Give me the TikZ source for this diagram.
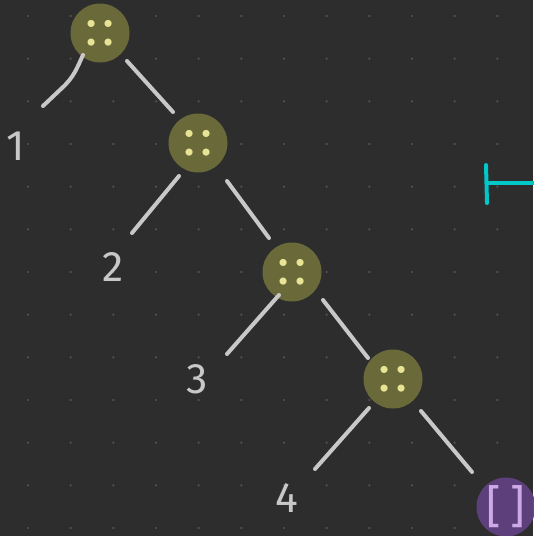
\documentclass[tikz,border=0pt]{standalone}
\usepackage{fontspec}
\setmainfont{Fira Sans}
\definecolor{bg}{RGB}{45,45,45}
\definecolor{griddot}{RGB}{82,82,82}
\definecolor{olive}{RGB}{110,110,58}
\definecolor{dotyel}{RGB}{232,228,150}
\definecolor{edgegray}{RGB}{200,200,200}
\definecolor{nilpurple}{RGB}{96,66,128}
\definecolor{nilink}{RGB}{205,170,230}
\definecolor{tcyan}{RGB}{0,200,200}
\tikzset{
  cons/.style={circle, fill=olive, fill opacity=0.93, text opacity=1, minimum size=59*0.75pt, inner sep=0pt,
    text=dotyel, font=\fontsize{38}{38}\selectfont},
  nilnode/.style={circle, fill=nilpurple, fill opacity=0.95, text opacity=1, minimum size=59*0.75pt, inner sep=0pt,
    text=nilink, font=\fontsize{34}{34}\selectfont},
  lbl/.style={text=edgegray, font=\fontsize{32}{32}\selectfont, inner sep=0pt},
  edge/.style={draw=edgegray, line width=3pt, line cap=round, line join=round},
  tline/.style={draw=tcyan, line width=3pt, line cap=round}
}
\begin{document}
\begin{tikzpicture}[x=0.75pt, y=-0.75pt]
\fill[bg] (0,0) rectangle (533,536);
\useasboundingbox (0,0) rectangle (533,536);
% grid dots
\foreach \i in {0,...,12}{
  \foreach \j in {0,...,12}{
    \fill[griddot] ({28+42.667*\i},{16+42.667*\j}) circle (1.2);
  }
}
% nodes
\node[cons] (c1) at (100,33) {:\hspace{4pt}:};
\node[cons] (c2) at (198,143) {:\hspace{4pt}:};
\node[cons] (c3) at (292,272) {:\hspace{4pt}:};
\node[cons] (c4) at (393,379) {:\hspace{4pt}:};
\node[nilnode] (nil) at (506,507) {[\hspace{7pt}]};
\node[lbl] (l1) at (16,146) {1};
\node[lbl] (l2) at (113,267) {2};
\node[lbl] (l3) at (197,379) {3};
\node[lbl] (l4) at (287,498) {4};
% edge end points
\coordinate (e1a) at (83,55);   \coordinate (e1b) at (43,106);
\coordinate (e2a) at (127,61);  \coordinate (e2b) at (173,112);
\coordinate (e3a) at (179,176); \coordinate (e3b) at (132,233);
\coordinate (e4a) at (227,181); \coordinate (e4b) at (269,238);
\coordinate (e5a) at (279,295); \coordinate (e5b) at (227,354);
\coordinate (e6a) at (323,300); \coordinate (e6b) at (368,358);
\coordinate (e7a) at (369,408); \coordinate (e7b) at (315,469);
\coordinate (e8a) at (421,411); \coordinate (e8b) at (472,472);
% edges
\draw[edge] (e1a) .. controls (77,68) and (74,77) .. (62,88) -- (e1b);
\draw[edge] (e2a) -- (e2b);
\draw[edge] (e3a) -- (e3b);
\draw[edge] (e4a) -- (e4b);
\draw[edge] (e5a) -- (e5b);
\draw[edge] (e6a) -- (e6b);
\draw[edge] (e7a) -- (e7b);
\draw[edge] (e8a) -- (e8b);
% turnstile
\coordinate (t1) at (486,165);
\coordinate (t2) at (487,203);
\coordinate (t3) at (489,183);
\coordinate (t4) at (535,183);
\draw[tline] (t1) -- (t2);
\draw[tline] (t3) -- (t4);
\end{tikzpicture}
\end{document}
